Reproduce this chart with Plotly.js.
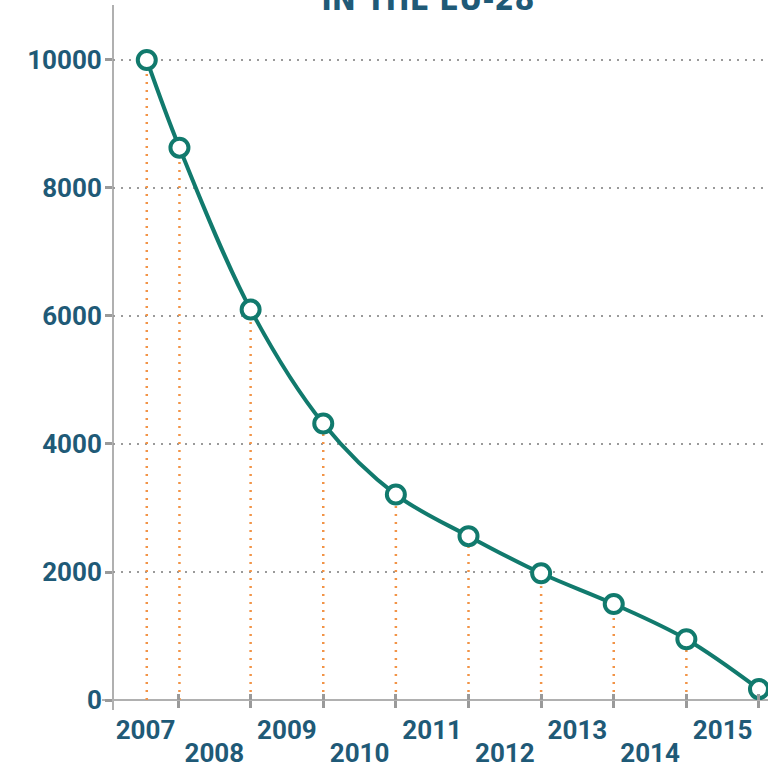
<!DOCTYPE html>
<html>
<head>
<meta charset="utf-8">
<script src="https://cdn.plot.ly/plotly-3.0.1.min.js"></script>
<style>html,body{margin:0;padding:0;background:#fff;}#chart{width:768px;height:766px;}</style>
</head>
<body>
<div id="chart"></div>
<script>
// ---- data ----
const labelYears = [2007, 2008, 2009, 2010, 2011, 2012, 2013, 2014, 2015];
const dates = [2007.57, 2008.02, 2009.0, 2010.0, 2011.0, 2012.0, 2013.0, 2014.0, 2015.0, 2016.0];
const values = [10000, 8630, 6100, 4320, 3210, 2560, 1980, 1500, 950, 170];
const yTicks = [0, 2000, 4000, 6000, 8000, 10000];
const yTickText = ['0', '2000', '4000', '6000', '8000', '10000'];
const titleText = 'IN THE EU-28';

// ---- styles ----
const TEAL = '#117a6d';
const ORANGE = '#f29447';
const TXT = '#1f5a77';
const GRAY = '#9a9a9a';
const xRange = [2007.105, 2016.124];
const yRange = [0, 10859];

const boundaries = [];
for (let y = labelYears[0] + 1; y <= labelYears[labelYears.length - 1] + 1; y++) boundaries.push(y);
const labelPos = labelYears.map(y => (Math.max(y, xRange[0]) + Math.min(y + 1, xRange[1])) / 2);
const oddPos = [], oddTxt = [], evenPos = [], evenTxt = [];
labelYears.forEach((y, i) => {
  if (i % 2 === 0) { oddPos.push(labelPos[i]); oddTxt.push(String(y)); }
  else { evenPos.push(labelPos[i]); evenTxt.push(String(y)); }
});

const dropX = [], dropY = [];
dates.forEach((d, i) => { dropX.push(d, d, null); dropY.push(0, values[i], null); });

const tickFont = {family: 'Roboto, sans-serif', size: 26, color: TXT, weight: 'bold'};

const traces = [
  {x: dropX, y: dropY, xaxis: 'x', yaxis: 'y', mode: 'lines', hoverinfo: 'skip',
   line: {color: ORANGE, width: 2.5, dash: '2px,6px'}, showlegend: false},
  {x: dates, y: values, xaxis: 'x2', yaxis: 'y', mode: 'lines+markers', cliponaxis: false,
   line: {color: TEAL, width: 4, shape: 'spline', smoothing: 1},
   marker: {size: 18, color: '#ffffff', line: {color: TEAL, width: 4}}, showlegend: false}
];

const layout = {
  width: 768, height: 766,
  margin: {l: 113, r: 0, t: 5, b: 66},
  paper_bgcolor: '#ffffff', plot_bgcolor: 'rgba(0,0,0,0)',
  showlegend: false,
  title: {text: titleText, x: 0.557, xanchor: 'center', xref: 'container', yref: 'container', y: 0.987, yanchor: 'bottom',
          font: {family: '"DejaVu Sans Condensed", "Liberation Sans Narrow", sans-serif', size: 32, color: TXT, weight: 'bold'}},
  xaxis: {range: xRange, tickmode: 'array', tickvals: oddPos, ticktext: oddTxt, ticks: '',
          showgrid: false, zeroline: false, showline: false, tickfont: tickFont, ticklabelstandoff: 12,
          minor: {tickmode: 'array', tickvals: boundaries, ticks: 'outside', ticklen: 7, tickwidth: 3, tickcolor: GRAY, showgrid: false}},
  xaxis2: {range: xRange, overlaying: 'x', anchor: 'y', side: 'bottom', tickmode: 'array', tickvals: evenPos, ticktext: evenTxt, ticks: '',
          showgrid: false, zeroline: false, showline: false, tickfont: tickFont, ticklabelstandoff: 35,
          minor: {tickmode: 'array', tickvals: boundaries, ticks: 'inside', ticklen: 6, tickwidth: 3, tickcolor: GRAY, showgrid: false}},
  yaxis: {range: yRange, tickmode: 'array', tickvals: yTicks, ticktext: yTickText, ticks: 'outside', ticklen: 7, tickwidth: 3, tickcolor: GRAY,
          showgrid: true, gridcolor: GRAY, gridwidth: 2.5, griddash: '2px,6px', zeroline: false, showline: false,
          tickfont: tickFont, ticklabelstandoff: -2},
  shapes: [
    {type: 'line', xref: 'paper', yref: 'paper', x0: -11/655, x1: 1, y0: 0, y1: 0, line: {color: '#b0b0b0', width: 2}, layer: 'below'},
    {type: 'line', xref: 'paper', yref: 'paper', x0: 0, x1: 0, y0: -10/695, y1: 1, line: {color: '#b0b0b0', width: 2}, layer: 'below'}
  ]
};

Plotly.newPlot('chart', traces, layout, {displayModeBar: false, staticPlot: true});
</script>
</body>
</html>
